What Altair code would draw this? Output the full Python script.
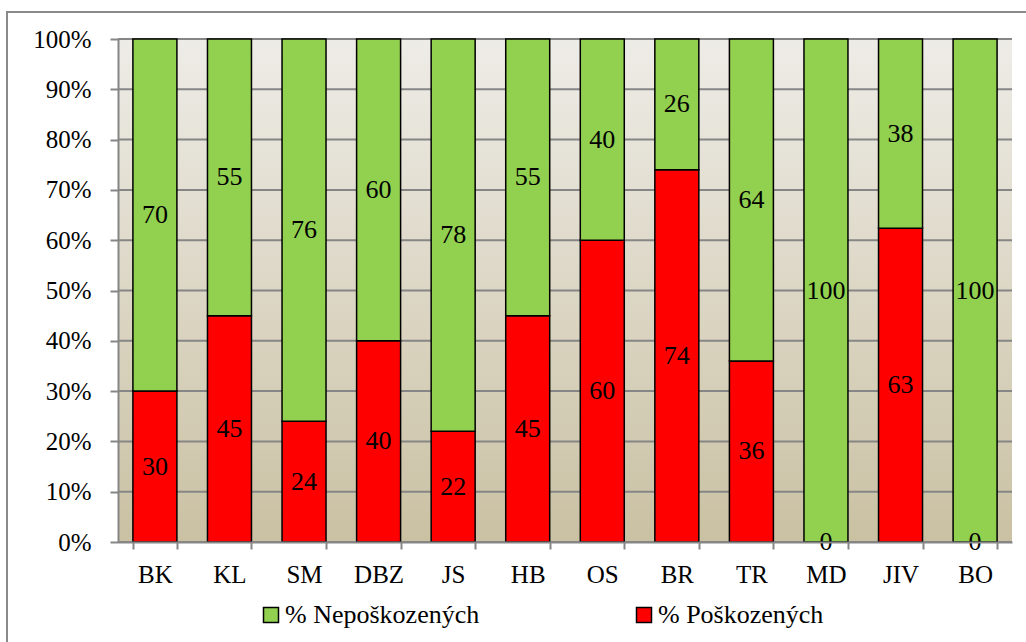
import altair as alt
import pandas as pd

# Share of damaged / undamaged trees per site (labels rounded to whole percent)
categories = ["BK", "KL", "SM", "DBZ", "JS", "HB", "OS", "BR", "TR", "MD", "JIV", "BO"]
damaged = [30, 45, 24, 40, 22, 45, 60, 74, 36, 0, 63, 0]
undamaged = [70, 55, 76, 60, 78, 55, 40, 26, 64, 100, 38, 100]
series_names = ["% Poškozených", "% Nepoškozených"]
series_colors = ["#FF0000", "#92D050"]
y_ticks = [0, 0.1, 0.2, 0.3, 0.4, 0.5, 0.6, 0.7, 0.8, 0.9, 1.0]

rows = []
for cat, d, u in zip(categories, damaged, undamaged):
    rows.append({"cat": cat, "series": series_names[0], "value": d, "ord": 0})
    rows.append({"cat": cat, "series": series_names[1], "value": u, "ord": 1})
df = pd.DataFrame(rows)

W, H = 894, 503
FONT = "Liberation Serif"
GRID = "#868686"

y_axis = alt.Axis(values=y_ticks, format=".0%", labelFont=FONT,
                  labelFontSize=25, labelColor="black", labelPadding=19,
                  tickSize=8, tickColor=GRID, tickWidth=2,
                  domainColor=GRID, domainWidth=2, grid=False, zindex=1)
y_scale = alt.Scale(domain=[0, 1], nice=False)

x_enc = alt.X("cat:N", sort=categories, title=None,
              scale=alt.Scale(paddingInner=0.41, paddingOuter=0.2),
              axis=alt.Axis(labelAngle=0, labelFont=FONT, labelFontSize=25,
                            labelColor="black", labelPadding=13,
                            tickBand="extent", tickSize=7, tickColor=GRID,
                            tickWidth=2, domainColor=GRID, domainWidth=2,
                            grid=False, zindex=1))

# plot-area background: light top fading into tan at the bottom
background = alt.Chart(alt.Data(values=[{}])).mark_rect(
    fill=alt.Gradient(gradient="linear", x1=0, y1=0, x2=0, y2=1,
                      stops=[alt.GradientStop(color="#EEECE7", offset=0),
                             alt.GradientStop(color="#CAC1A3", offset=1)])
).encode(x=alt.value(0), x2=alt.value(W), y=alt.value(0), y2=alt.value(H))

# outer chart frame
frame = alt.Chart(alt.Data(values=[{}])).mark_rect(
    fill="transparent", stroke="#8A8A8A", strokeWidth=2
).encode(x=alt.value(-111), x2=alt.value(W + 60), y=alt.value(-27), y2=alt.value(H + 160))

grid = alt.Chart(pd.DataFrame({"t": y_ticks})).mark_rule(
    color=GRID, strokeWidth=2
).encode(y=alt.Y("t:Q", title=None, scale=y_scale, axis=y_axis),
         x=alt.value(0), x2=alt.value(W))

stacked = alt.Chart(df).transform_stack(
    stack="value", groupby=["cat"], sort=[alt.SortField("ord")],
    as_=["y0", "y1"], offset="normalize"
).transform_calculate(mid="(datum.y0 + datum.y1) / 2")

bars = stacked.mark_bar(stroke="black", strokeWidth=1.5).encode(
    x=x_enc,
    y=alt.Y("y0:Q", title=None, scale=y_scale, axis=y_axis),
    y2="y1:Q",
    color=alt.Color("series:N",
                    scale=alt.Scale(domain=series_names, range=series_colors),
                    legend=alt.Legend(title=None, orient="none", direction="horizontal",
                                      legendX=140, legendY=563,
                                      values=["% Nepoškozených", "% Poškozených"],
                                      symbolType="square", symbolSize=225,
                                      symbolStrokeColor="black", symbolStrokeWidth=1.5,
                                      labelFont=FONT, labelFontSize=26,
                                      labelColor="black", labelOffset=1,
                                      columnPadding=151, labelLimit=400)),
)

labels = stacked.mark_text(font=FONT, fontSize=26, color="black", baseline="middle").encode(
    x=alt.X("cat:N", sort=categories),
    y=alt.Y("mid:Q", scale=y_scale, axis=y_axis, title=None),
    text=alt.Text("value:Q"),
)

chart = alt.layer(background, frame, grid, bars, labels).properties(
    width=W, height=H,
    autosize=alt.AutoSizeParams(type="none"),
    padding={"left": 118, "top": 39, "right": 14, "bottom": 100},
    background="white",
).configure_view(stroke=None)

chart.save("out.html", embed_options={"renderer": "svg", "actions": False})
